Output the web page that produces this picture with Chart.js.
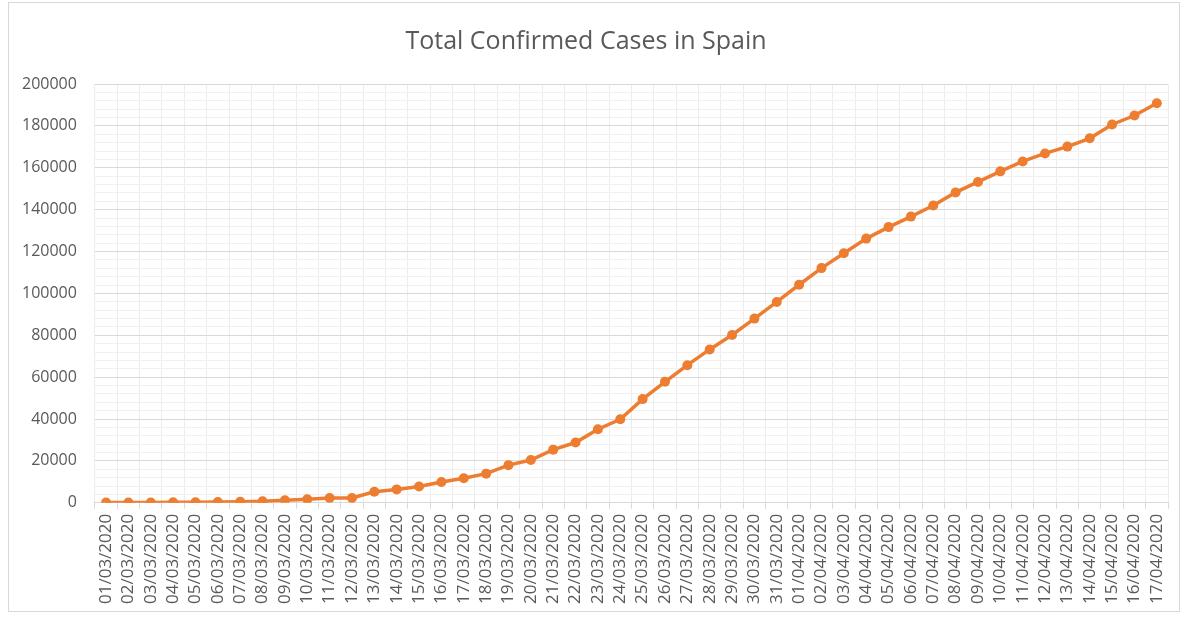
<!DOCTYPE html>
<html>
<head>
    <title>Total Confirmed Cases in Spain</title>
    <script src="https://cdn.jsdelivr.net/npm/chart.js"></script>
    <style type="text/css">
        html, body {
            margin: 0;
            padding: 0;
            background: #ffffff;
        }
        #wrap {
            position: relative;
            width: 1187px;
            height: 619px;
        }
        #frame {
            position: absolute;
            left: 8px;
            top: 2px;
            width: 1172px;
            height: 610px;
            border: 1px solid #d9d9d9;
            box-sizing: border-box;
            pointer-events: none;
        }
    </style>
</head>
<body>
    <div id="wrap">
        <canvas id="cases-chart" width="1187" height="619"></canvas>
        <div id="frame"></div>
    </div>

    <script type="text/javascript">
        // dates on the x axis, 01/03/2020 .. 17/04/2020
        const dates = [
            '01/03/2020', '02/03/2020', '03/03/2020', '04/03/2020', '05/03/2020', '06/03/2020',
            '07/03/2020', '08/03/2020', '09/03/2020', '10/03/2020', '11/03/2020', '12/03/2020',
            '13/03/2020', '14/03/2020', '15/03/2020', '16/03/2020', '17/03/2020', '18/03/2020',
            '19/03/2020', '20/03/2020', '21/03/2020', '22/03/2020', '23/03/2020', '24/03/2020',
            '25/03/2020', '26/03/2020', '27/03/2020', '28/03/2020', '29/03/2020', '30/03/2020',
            '31/03/2020', '01/04/2020', '02/04/2020', '03/04/2020', '04/04/2020', '05/04/2020',
            '06/04/2020', '07/04/2020', '08/04/2020', '09/04/2020', '10/04/2020', '11/04/2020',
            '12/04/2020', '13/04/2020', '14/04/2020', '15/04/2020', '16/04/2020', '17/04/2020'
        ];

        // total confirmed cases per day
        const totalCases = [
            84, 120, 165, 228, 282, 401,
            525, 674, 1231, 1695, 2277, 2277,
            5232, 6391, 7798, 9942, 11748, 13910,
            17963, 20410, 25374, 28768, 35136, 39885,
            49515, 57786, 65719, 73235, 80110, 87956,
            95923, 104118, 112065, 119199, 126168, 131646,
            136675, 141942, 148220, 153222, 158273, 163027,
            166831, 170099, 174060, 180659, 184948, 190839
        ];

        // y axis range, labelled steps and minor gridline steps
        const yMin = 0;
        const yMax = 200000;
        const yMajor = 20000;
        const yMinor = 4000;

        const textGrey = '#595959';
        const orange = '#ED7D31';

        const ctx = document.getElementById('cases-chart').getContext('2d');
        new Chart(ctx, {
            type: 'line',
            data: {
                labels: dates,
                datasets: [{
                    label: 'Total Confirmed Cases',
                    data: totalCases,
                    borderColor: orange,
                    backgroundColor: orange,
                    borderWidth: 3.5,
                    pointRadius: 5,
                    pointBackgroundColor: orange,
                    pointBorderColor: orange,
                    pointBorderWidth: 0,
                    tension: 0
                }]
            },
            options: {
                responsive: false,
                animation: false,
                layout: {
                    padding: { left: 4, right: 19, top: 0, bottom: 10 }
                },
                plugins: {
                    legend: { display: false },
                    tooltip: { enabled: false },
                    title: {
                        display: true,
                        text: 'Total Confirmed Cases in Spain',
                        color: textGrey,
                        font: { family: 'Open Sans', size: 25, weight: 'normal' },
                        padding: { top: 27, bottom: 27 }
                    }
                },
                scales: {
                    x: {
                        offset: true,
                        grid: {
                            offset: true,
                            color: '#ececec',
                            lineWidth: 1,
                            drawTicks: true,
                            tickLength: 6,
                            tickColor: '#d9d9d9'
                        },
                        border: { display: true, color: '#d9d9d9' },
                        ticks: {
                            color: textGrey,
                            font: { family: 'Open Sans', size: 17 },
                            minRotation: 90,
                            maxRotation: 90,
                            autoSkip: false,
                            padding: 5
                        }
                    },
                    y: {
                        min: yMin,
                        max: yMax,
                        grid: {
                            drawTicks: false,
                            color: function (c) {
                                return c.tick.value % yMajor === 0 ? '#d9d9d9' : '#f0f0f0';
                            },
                            lineWidth: 1
                        },
                        border: { display: false },
                        ticks: {
                            stepSize: yMinor,
                            autoSkip: false,
                            color: textGrey,
                            font: { family: 'Open Sans', size: 16 },
                            padding: 18,
                            callback: function (value) {
                                return value % yMajor === 0 ? String(value) : '';
                            }
                        }
                    }
                }
            }
        });
    </script>
</body>
</html>
